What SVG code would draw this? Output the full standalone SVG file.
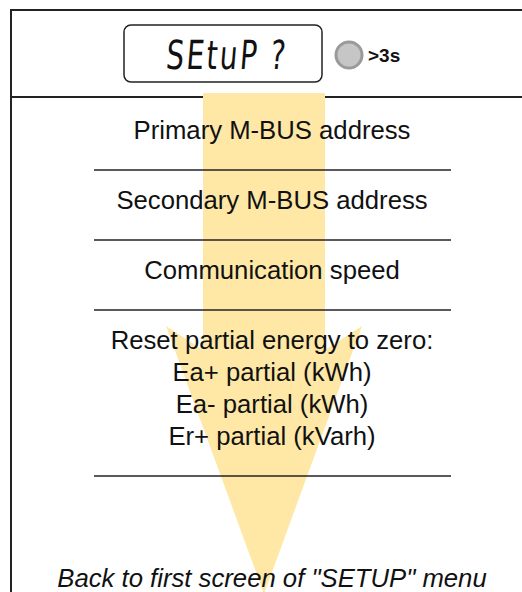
<svg xmlns="http://www.w3.org/2000/svg" width="522" height="592" viewBox="0 0 522 592">
<style>
.t{font-family:"Liberation Sans",Arial,sans-serif;font-size:25.7px;fill:#111;text-anchor:middle}
.sep{stroke:#222;stroke-width:1.5}
.frame{stroke:#222;stroke-width:2;fill:none}
</style>
<rect width="522" height="592" fill="#fff"/>
<g id="frame">
<path class="frame" d="M11,592 V10 H522"/>
<line class="frame" x1="11" y1="97" x2="522" y2="97"/>
</g>
<g id="arrow">
<polygon points="203,93 325,93 325,350 362,326 264,594 166,326 203,350" fill="#FFE7A6"/>
</g>
<g id="display">
<rect x="124" y="25" width="198" height="57" rx="7" fill="#fff" stroke="#222" stroke-width="1.5"/>
<text transform="translate(226,69) scale(0.78,1) skewX(-6)" font-family="'DejaVu Sans Condensed','DejaVu Sans',sans-serif" font-size="40" text-anchor="middle" fill="#111" letter-spacing="3">SEtuP ?</text>
<circle cx="349" cy="55" r="13" fill="#c6c6c6" stroke="#9a9a9a" stroke-width="3"/>
<text x="368" y="62" font-family="'Liberation Sans Narrow','Liberation Sans',sans-serif" font-weight="bold" font-size="19" fill="#111">&gt;3s</text>
</g>
<g id="connectors">
<line class="sep" x1="94" y1="170" x2="451" y2="170"/>
<line class="sep" x1="94" y1="240" x2="451" y2="240"/>
<line class="sep" x1="94" y1="310" x2="451" y2="310"/>
<line class="sep" x1="94" y1="476" x2="451" y2="476"/>
</g>
<g id="n1"><text class="t" x="272" y="139">Primary M-BUS address</text></g>
<g id="n2"><text class="t" x="272" y="209">Secondary M-BUS address</text></g>
<g id="n3"><text class="t" x="272" y="279">Communication speed</text></g>
<g id="n4">
<text class="t" x="272" y="349">Reset partial energy to zero:</text>
<text class="t" x="272" y="381">Ea+ partial (kWh)</text>
<text class="t" x="272" y="413">Ea- partial (kWh)</text>
<text class="t" x="272" y="445">Er+ partial (kVarh)</text>
</g>
<g id="n5"><text class="t" x="272" y="587" font-style="italic" font-size="26.4">Back to first screen of "SETUP" menu</text></g>
</svg>
